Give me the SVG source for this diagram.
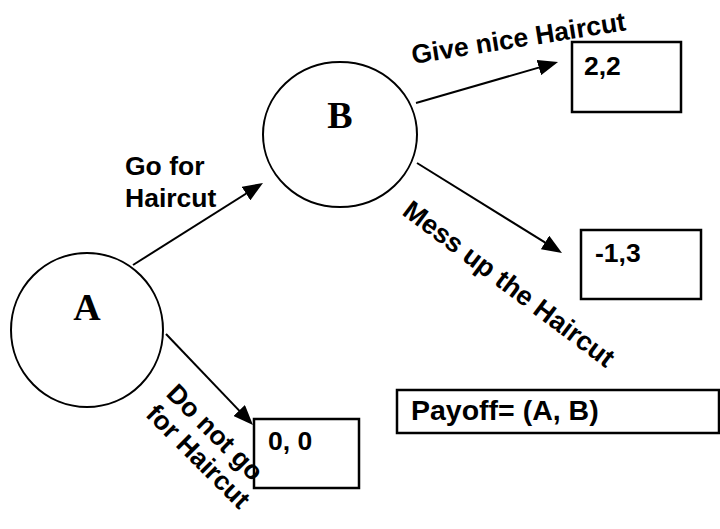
<svg xmlns="http://www.w3.org/2000/svg" width="720" height="529" viewBox="0 0 720 529">
  <style>
    .node { fill: #fff; stroke: #000; stroke-width: 2; }
    .box { fill: #fff; stroke: #000; stroke-width: 2.5; }
    .edge { fill: none; stroke: #000; stroke-width: 2; }
    .player { font-family: "Liberation Serif", "Times New Roman", serif; font-weight: bold; font-size: 38px; fill: #000; text-anchor: middle; }
    .lbl { font-family: "Liberation Sans", Arial, sans-serif; font-weight: bold; font-size: 26.5px; fill: #000; }
  </style>
  <defs>
    <marker id="arrow" viewBox="0 0 20 16" refX="16" refY="8" markerWidth="20" markerHeight="16" markerUnits="userSpaceOnUse" orient="auto">
      <path d="M0,0 L20,8 L0,16 z" fill="#000"/>
    </marker>
  </defs>

  <!-- decision connectors -->
  <g id="connectors">
    <path class="edge" d="M133,265 L259.6,185.1" marker-end="url(#arrow)"/>
    <path class="edge" d="M416,103 L554.2,63.1" marker-end="url(#arrow)"/>
    <path class="edge" d="M417,163 L558.6,250.9" marker-end="url(#arrow)"/>
    <path class="edge" d="M166,334 L250.2,422.1" marker-end="url(#arrow)"/>
  </g>

  <g id="node-a">
    <ellipse class="node" cx="87" cy="330" rx="76" ry="77"/>
    <text class="player" x="87" y="320">A</text>
  </g>

  <g id="node-b">
    <ellipse class="node" cx="340" cy="134.5" rx="77" ry="72.5"/>
    <text class="player" x="340" y="128">B</text>
  </g>

  <g id="payoff-nice">
    <rect class="box" x="572" y="42" width="109" height="70"/>
    <text class="lbl" x="584" y="75">2,2</text>
  </g>

  <g id="payoff-mess">
    <rect class="box" x="581" y="230" width="120" height="69"/>
    <text class="lbl" x="595" y="262">-1,3</text>
  </g>

  <g id="payoff-stay">
    <rect class="box" x="254" y="419" width="105" height="69"/>
    <text class="lbl" x="268" y="450">0, 0</text>
  </g>

  <g id="payoff-legend">
    <rect class="box" x="397" y="390" width="322" height="43"/>
    <text class="lbl" x="411" y="420" style="font-size:28.5px">Payoff= (A, B)</text>
  </g>

  <!-- edge labels, drawn last so they sit over the boxes -->
  <g id="edge-labels">
    <text class="lbl" x="125" y="175">Go for</text>
    <text class="lbl" x="125" y="207">Haircut</text>
    <text class="lbl" transform="translate(413,64) rotate(-9)">Give nice Haircut</text>
    <text class="lbl" transform="translate(401,214) rotate(37)" style="font-size:27px">Mess up the Haircut</text>
    <text class="lbl" transform="translate(165,395) rotate(45)">
      <tspan x="0" y="0">Do not go</tspan>
      <tspan x="0" y="29">for Haircut</tspan>
    </text>
  </g>
</svg>
